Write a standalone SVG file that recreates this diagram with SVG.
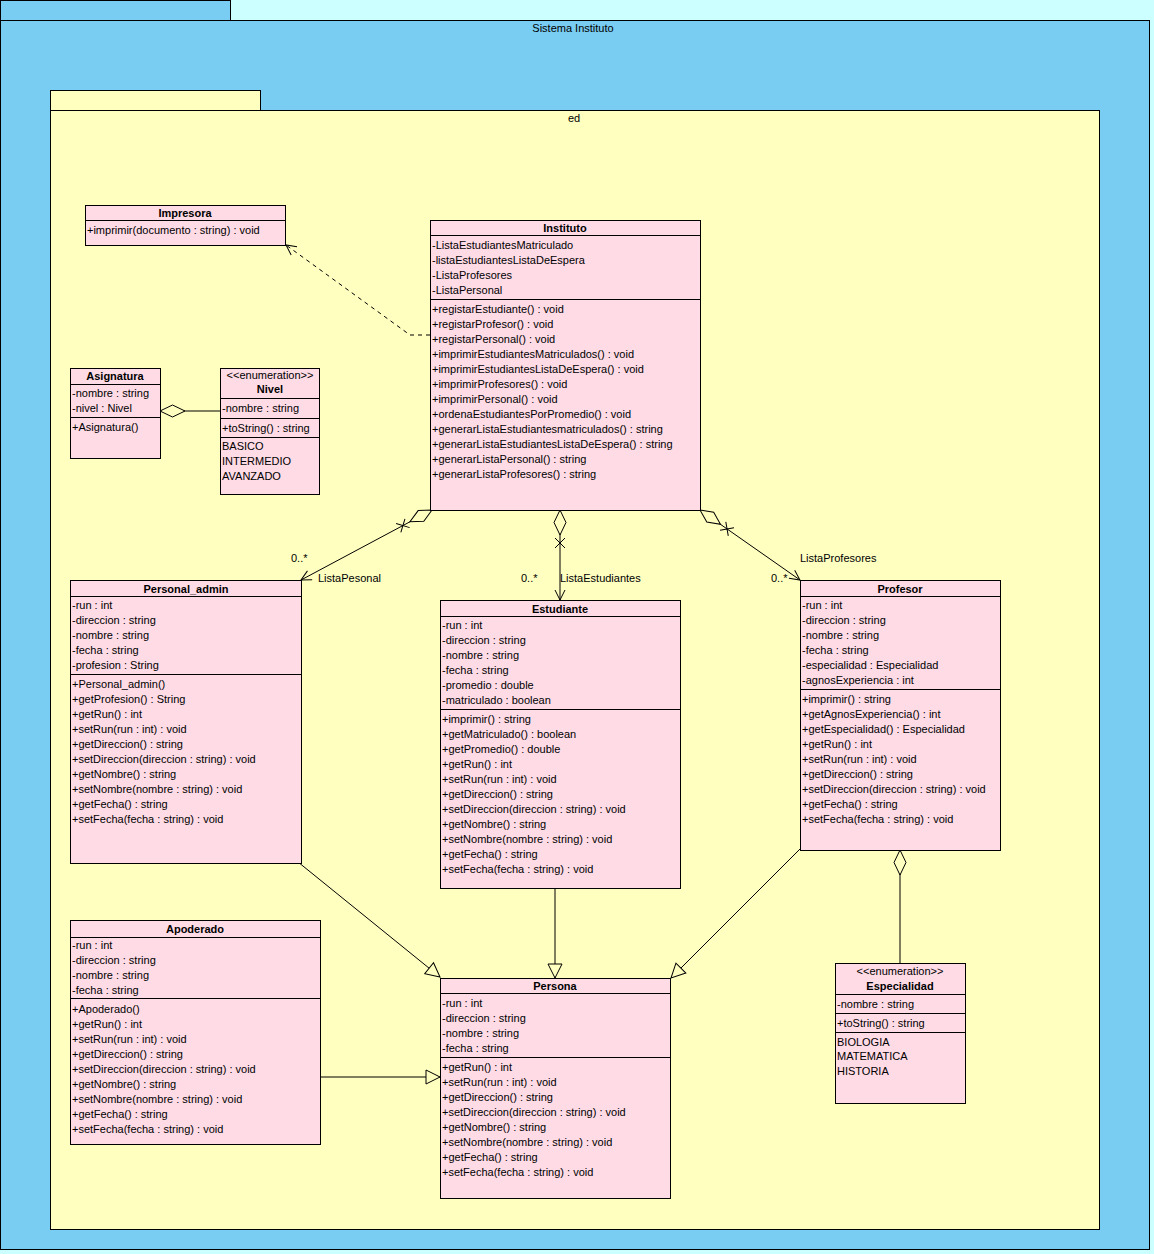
<svg xmlns="http://www.w3.org/2000/svg" width="1154" height="1254" viewBox="0 0 1154 1254">
<style>
text{font-family:"Liberation Sans",Arial,sans-serif;font-size:11px;fill:#000}
.b{font-weight:bold;text-anchor:middle}
.m{text-anchor:middle}
.box{fill:#FFDBE6;stroke:#000;stroke-width:1;shape-rendering:crispEdges}
.dv{stroke:#000;stroke-width:1;shape-rendering:crispEdges}
.pk{stroke:#000;stroke-width:1;shape-rendering:crispEdges}
.c{fill:none;stroke:#000;stroke-width:1}
</style>
<defs>
<marker id="agg" markerUnits="userSpaceOnUse" markerWidth="60" markerHeight="30" refX="0" refY="0" orient="auto" overflow="visible">
<path d="M0,0 L12.5,-6 L25,0 L12.5,6 Z" fill="#FFFFC0" stroke="#000"/>
<path d="M28,-5 L38,5 M28,5 L38,-5" fill="none" stroke="#000"/>
</marker>
<marker id="dia" markerUnits="userSpaceOnUse" markerWidth="60" markerHeight="30" refX="0" refY="0" orient="auto" overflow="visible">
<path d="M0,0 L12.5,-6 L25,0 L12.5,6 Z" fill="#FFFFC0" stroke="#000"/>
</marker>
<marker id="open" markerUnits="userSpaceOnUse" markerWidth="30" markerHeight="30" refX="0" refY="0" orient="auto" overflow="visible">
<path d="M-10,-5 L0,0 L-10,5" fill="none" stroke="#000"/>
</marker>
<marker id="tri" markerUnits="userSpaceOnUse" markerWidth="30" markerHeight="30" refX="0" refY="0" orient="auto" overflow="visible">
<path d="M-14,-7 L0,0 L-14,7 Z" fill="#FFFFC0" stroke="#000"/>
</marker>
</defs>
<rect x="0" y="0" width="1154" height="1254" fill="#CCFFFF"/>
<g id="pkg-sistema">
<rect class="pk" x="0.5" y="0.5" width="230" height="20" fill="#79CDF2"/>
<rect class="pk" x="0.5" y="20.5" width="1149" height="1229" fill="#79CDF2"/>
<text class="m" x="573" y="32">Sistema Instituto</text>
</g>
<g id="pkg-ed">
<rect class="pk" x="50.5" y="90.5" width="210" height="20" fill="#FFFFC0"/>
<rect class="pk" x="50.5" y="110.5" width="1049" height="1119" fill="#FFFFC0"/>
<text class="m" x="574" y="122">ed</text>
</g>
<g id="connectors">
<path class="c" d="M430,335 L410,335 L286,245" stroke-dasharray="4,4" marker-end="url(#open)"/>
<path class="c" d="M160,411 L220,411" marker-start="url(#dia)"/>
<path class="c" d="M432,510 L301,580" marker-start="url(#agg)" marker-end="url(#open)"/>
<path class="c" d="M560,510 L560,600" marker-start="url(#agg)" marker-end="url(#open)"/>
<path class="c" d="M700,510 L800,580" marker-start="url(#agg)" marker-end="url(#open)"/>
<path class="c" d="M900,850 L900,963" marker-start="url(#dia)"/>
<path class="c" d="M298,862 L440,977" marker-end="url(#tri)"/>
<path class="c" d="M555,888 L555,978" marker-end="url(#tri)"/>
<path class="c" d="M800,849 L671,978" marker-end="url(#tri)"/>
<path class="c" d="M320,1077 L440,1077" marker-end="url(#tri)"/>
<text x="291" y="562">0..*</text>
<text x="318" y="582">ListaPesonal</text>
<text x="521" y="582">0..*</text>
<text x="560" y="582">ListaEstudiantes</text>
<text x="771" y="582">0..*</text>
<text x="800" y="562">ListaProfesores</text>
</g>
<g id="Impresora">
<rect class="box" x="85.5" y="205.5" width="200" height="40"/>
<line class="dv" x1="85" y1="220.5" x2="286" y2="220.5"/>
<text class="b" x="185" y="217">Impresora</text>
<text x="87" y="234">+imprimir(documento : string) : void</text>
</g>
<g id="Instituto">
<rect class="box" x="430.5" y="220.5" width="270" height="290"/>
<line class="dv" x1="430" y1="235.5" x2="701" y2="235.5"/>
<line class="dv" x1="430" y1="299.5" x2="701" y2="299.5"/>
<text class="b" x="565" y="232">Instituto</text>
<text x="432" y="249">-ListaEstudiantesMatriculado</text>
<text x="432" y="264">-listaEstudiantesListaDeEspera</text>
<text x="432" y="279">-ListaProfesores</text>
<text x="432" y="294">-ListaPersonal</text>
<text x="432" y="313">+registarEstudiante() : void</text>
<text x="432" y="328">+registarProfesor() : void</text>
<text x="432" y="343">+registarPersonal() : void</text>
<text x="432" y="358">+imprimirEstudiantesMatriculados() : void</text>
<text x="432" y="373">+imprimirEstudiantesListaDeEspera() : void</text>
<text x="432" y="388">+imprimirProfesores() : void</text>
<text x="432" y="403">+imprimirPersonal() : void</text>
<text x="432" y="418">+ordenaEstudiantesPorPromedio() : void</text>
<text x="432" y="433">+generarListaEstudiantesmatriculados() : string</text>
<text x="432" y="448">+generarListaEstudiantesListaDeEspera() : string</text>
<text x="432" y="463">+generarListaPersonal() : string</text>
<text x="432" y="478">+generarListaProfesores() : string</text>
</g>
<g id="Asignatura">
<rect class="box" x="70.5" y="368.5" width="90" height="90"/>
<line class="dv" x1="70" y1="384.5" x2="161" y2="384.5"/>
<line class="dv" x1="70" y1="417.5" x2="161" y2="417.5"/>
<text class="b" x="115" y="380">Asignatura</text>
<text x="72" y="397">-nombre : string</text>
<text x="72" y="412">-nivel : Nivel</text>
<text x="72" y="431">+Asignatura()</text>
</g>
<g id="Nivel">
<rect class="box" x="220.5" y="368.5" width="99" height="126"/>
<line class="dv" x1="220" y1="398.5" x2="320" y2="398.5"/>
<line class="dv" x1="220" y1="418.5" x2="320" y2="418.5"/>
<line class="dv" x1="220" y1="437.5" x2="320" y2="437.5"/>
<text class="m" x="270" y="379">&lt;&lt;enumeration&gt;&gt;</text>
<text class="b" x="270" y="393">Nivel</text>
<text x="222" y="412">-nombre : string</text>
<text x="222" y="432">+toString() : string</text>
<text x="222" y="450">BASICO</text>
<text x="222" y="465">INTERMEDIO</text>
<text x="222" y="480">AVANZADO</text>
</g>
<g id="Personal_admin">
<rect class="box" x="70.5" y="580.5" width="231" height="283"/>
<line class="dv" x1="70" y1="596.5" x2="302" y2="596.5"/>
<line class="dv" x1="70" y1="674.5" x2="302" y2="674.5"/>
<text class="b" x="186" y="593">Personal_admin</text>
<text x="72" y="609">-run : int</text>
<text x="72" y="624">-direccion : string</text>
<text x="72" y="639">-nombre : string</text>
<text x="72" y="654">-fecha : string</text>
<text x="72" y="669">-profesion : String</text>
<text x="72" y="688">+Personal_admin()</text>
<text x="72" y="703">+getProfesion() : String</text>
<text x="72" y="718">+getRun() : int</text>
<text x="72" y="733">+setRun(run : int) : void</text>
<text x="72" y="748">+getDireccion() : string</text>
<text x="72" y="763">+setDireccion(direccion : string) : void</text>
<text x="72" y="778">+getNombre() : string</text>
<text x="72" y="793">+setNombre(nombre : string) : void</text>
<text x="72" y="808">+getFecha() : string</text>
<text x="72" y="823">+setFecha(fecha : string) : void</text>
</g>
<g id="Estudiante">
<rect class="box" x="440.5" y="600.5" width="240" height="288"/>
<line class="dv" x1="440" y1="616.5" x2="681" y2="616.5"/>
<line class="dv" x1="440" y1="709.5" x2="681" y2="709.5"/>
<text class="b" x="560" y="613">Estudiante</text>
<text x="442" y="629">-run : int</text>
<text x="442" y="644">-direccion : string</text>
<text x="442" y="659">-nombre : string</text>
<text x="442" y="674">-fecha : string</text>
<text x="442" y="689">-promedio : double</text>
<text x="442" y="704">-matriculado : boolean</text>
<text x="442" y="723">+imprimir() : string</text>
<text x="442" y="738">+getMatriculado() : boolean</text>
<text x="442" y="753">+getPromedio() : double</text>
<text x="442" y="768">+getRun() : int</text>
<text x="442" y="783">+setRun(run : int) : void</text>
<text x="442" y="798">+getDireccion() : string</text>
<text x="442" y="813">+setDireccion(direccion : string) : void</text>
<text x="442" y="828">+getNombre() : string</text>
<text x="442" y="843">+setNombre(nombre : string) : void</text>
<text x="442" y="858">+getFecha() : string</text>
<text x="442" y="873">+setFecha(fecha : string) : void</text>
</g>
<g id="Profesor">
<rect class="box" x="800.5" y="580.5" width="200" height="270"/>
<line class="dv" x1="800" y1="596.5" x2="1001" y2="596.5"/>
<line class="dv" x1="800" y1="689.5" x2="1001" y2="689.5"/>
<text class="b" x="900" y="593">Profesor</text>
<text x="802" y="609">-run : int</text>
<text x="802" y="624">-direccion : string</text>
<text x="802" y="639">-nombre : string</text>
<text x="802" y="654">-fecha : string</text>
<text x="802" y="669">-especialidad : Especialidad</text>
<text x="802" y="684">-agnosExperiencia : int</text>
<text x="802" y="703">+imprimir() : string</text>
<text x="802" y="718">+getAgnosExperiencia() : int</text>
<text x="802" y="733">+getEspecialidad() : Especialidad</text>
<text x="802" y="748">+getRun() : int</text>
<text x="802" y="763">+setRun(run : int) : void</text>
<text x="802" y="778">+getDireccion() : string</text>
<text x="802" y="793">+setDireccion(direccion : string) : void</text>
<text x="802" y="808">+getFecha() : string</text>
<text x="802" y="823">+setFecha(fecha : string) : void</text>
</g>
<g id="Apoderado">
<rect class="box" x="70.5" y="920.5" width="250" height="224"/>
<line class="dv" x1="70" y1="937.5" x2="321" y2="937.5"/>
<line class="dv" x1="70" y1="998.5" x2="321" y2="998.5"/>
<text class="b" x="195" y="933">Apoderado</text>
<text x="72" y="949">-run : int</text>
<text x="72" y="964">-direccion : string</text>
<text x="72" y="979">-nombre : string</text>
<text x="72" y="994">-fecha : string</text>
<text x="72" y="1013">+Apoderado()</text>
<text x="72" y="1028">+getRun() : int</text>
<text x="72" y="1043">+setRun(run : int) : void</text>
<text x="72" y="1058">+getDireccion() : string</text>
<text x="72" y="1073">+setDireccion(direccion : string) : void</text>
<text x="72" y="1088">+getNombre() : string</text>
<text x="72" y="1103">+setNombre(nombre : string) : void</text>
<text x="72" y="1118">+getFecha() : string</text>
<text x="72" y="1133">+setFecha(fecha : string) : void</text>
</g>
<g id="Persona">
<rect class="box" x="440.5" y="978.5" width="230" height="220"/>
<line class="dv" x1="440" y1="993.5" x2="671" y2="993.5"/>
<line class="dv" x1="440" y1="1057.5" x2="671" y2="1057.5"/>
<text class="b" x="555" y="990">Persona</text>
<text x="442" y="1007">-run : int</text>
<text x="442" y="1022">-direccion : string</text>
<text x="442" y="1037">-nombre : string</text>
<text x="442" y="1052">-fecha : string</text>
<text x="442" y="1071">+getRun() : int</text>
<text x="442" y="1086">+setRun(run : int) : void</text>
<text x="442" y="1101">+getDireccion() : string</text>
<text x="442" y="1116">+setDireccion(direccion : string) : void</text>
<text x="442" y="1131">+getNombre() : string</text>
<text x="442" y="1146">+setNombre(nombre : string) : void</text>
<text x="442" y="1161">+getFecha() : string</text>
<text x="442" y="1176">+setFecha(fecha : string) : void</text>
</g>
<g id="Especialidad">
<rect class="box" x="835.5" y="963.5" width="130" height="140"/>
<line class="dv" x1="835" y1="994.5" x2="966" y2="994.5"/>
<line class="dv" x1="835" y1="1013.5" x2="966" y2="1013.5"/>
<line class="dv" x1="835" y1="1032.5" x2="966" y2="1032.5"/>
<text class="m" x="900" y="975">&lt;&lt;enumeration&gt;&gt;</text>
<text class="b" x="900" y="990">Especialidad</text>
<text x="837" y="1008">-nombre : string</text>
<text x="837" y="1027">+toString() : string</text>
<text x="837" y="1046">BIOLOGIA</text>
<text x="837" y="1060">MATEMATICA</text>
<text x="837" y="1075">HISTORIA</text>
</g>
</svg>
